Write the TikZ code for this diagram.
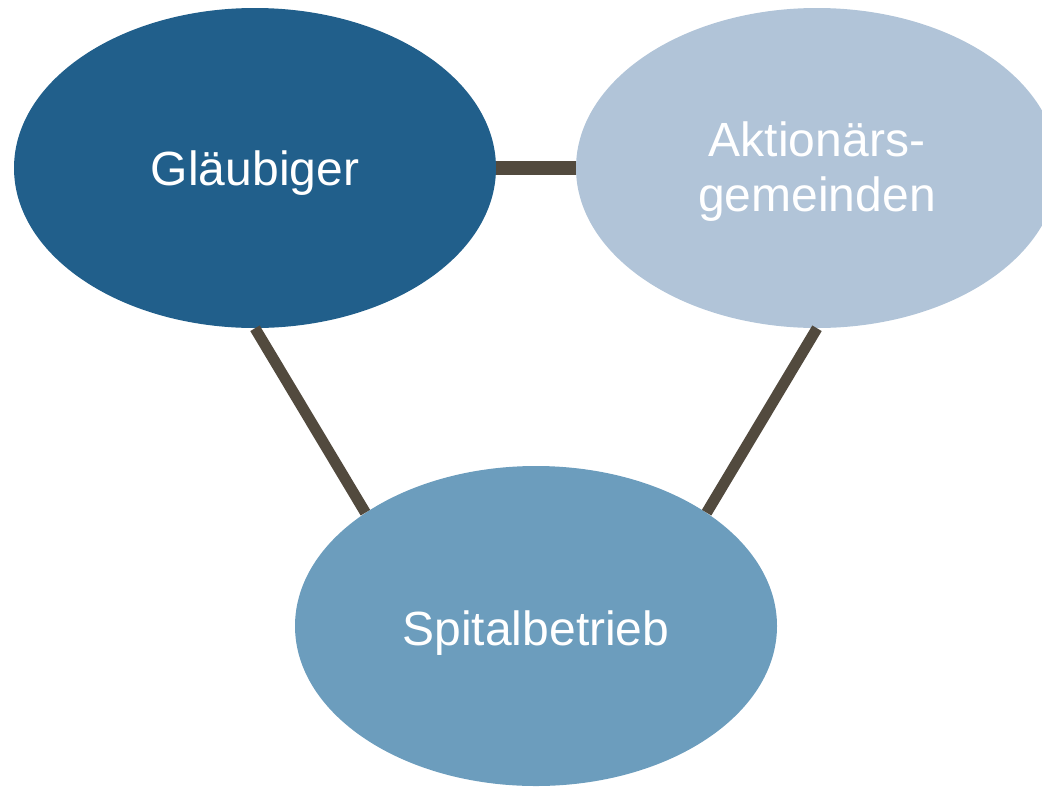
\documentclass[tikz,border=0pt]{standalone}
\usepackage{fontspec}
\setmainfont{Liberation Sans}
\usetikzlibrary{shapes.geometric}
\definecolor{cDark}{HTML}{215F8B}
\definecolor{cLight}{HTML}{B1C4D8}
\definecolor{cMid}{HTML}{6C9DBD}
\definecolor{cLine}{HTML}{524A3E}
\newcommand{\lowtext}[2]{\raisebox{-#1}[0pt][0pt]{#2}}
\begin{document}
\begin{tikzpicture}[x=0.75pt,y=-0.75pt,
  blob/.style={ellipse,draw=none,inner sep=0pt,minimum width=361.5pt,minimum height=240pt,
    text=white,font=\fontsize{36}{41.25}\selectfont},
  link/.style={draw=cLine,line width=8.25pt,line cap=butt}]
\useasboundingbox (0,0) rectangle (1042,786);
\clip (0,0) rectangle (1042,786);
\node[blob,fill=cDark] (g) at (255,168) {\lowtext{12.75pt}{Gläubiger}};
\node[blob,fill=cLight] (a) at (817,168) {\lowtext{32.8pt}{\begin{tabular}[b]{@{}c@{}}Aktionärs-\\gemeinden\end{tabular}}};
\node[blob,fill=cMid] (s) at (536,626) {\lowtext{14.5pt}{Spitalbetrieb}};
\draw[link,line width=10.5pt] (g.east) -- (a.west);
\draw[link] (g.south) -- (s.north west);
\draw[link] (a.south) -- (s.north east);
\end{tikzpicture}
\end{document}
